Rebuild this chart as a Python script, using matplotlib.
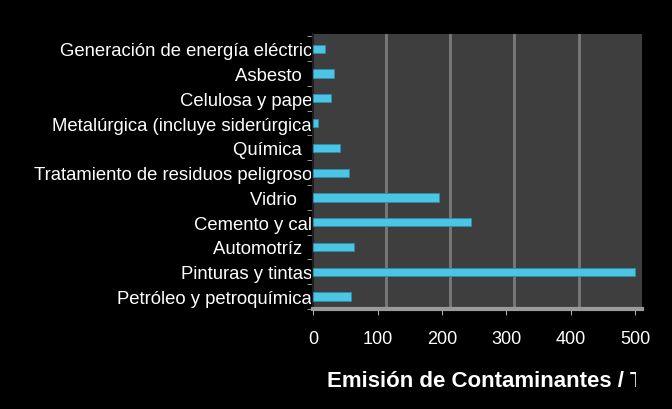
import numpy as np
import matplotlib.pyplot as plt
import matplotlib.transforms as mtransforms

# categories from top to bottom, as they appear (cut off by the plot box)
sectores = ["Generación de energía eléctric", "Asbesto  ", "Celulosa y pape",
            "Metalúrgica (incluye siderúrgica", "Química  ",
            "Tratamiento de residuos peligroso", "Vidrio   ", "Cemento y cal",
            "Automotríz  ", "Pinturas y tintas", "Petróleo y petroquímica"]
emision = [18, 33, 28, 8, 42, 55, 195, 245, 63, 500, 58]
xticks = [0, 100, 200, 300, 400, 500]

plt.rcParams['font.family'] = ['Liberation Sans', 'DejaVu Sans']

fig = plt.figure(figsize=(6.72, 4.10), dpi=100, facecolor='black')
ax = fig.add_axes([0.466, 0.244, 0.489, 0.671])
ax.set_facecolor('#3e3e3e')

y = np.arange(len(sectores))
ax.barh(y, emision, height=0.33, color='#4cc4e4', edgecolor='#2a8fb0', linewidth=0.6, zorder=3)

# gridlines with a small 3D-style offset
shift = mtransforms.ScaledTranslation(8 / 100, 0, fig.dpi_scale_trans)
for v in xticks[1:-1]:
    ax.plot([v, v], [0, 1], color='#7a7a7a', lw=2, zorder=1,
            transform=ax.get_xaxis_transform() + shift)

ax.set_xlim(0, 510)
ax.set_ylim(len(sectores) - 0.5, -0.6)
ax.set_xticks(xticks)
ax.set_xticklabels([str(v) for v in xticks], color='white', fontsize=13)
ax.set_yticks(y)
ax.set_yticklabels(sectores, color='white', fontsize=13.3)
ax.tick_params(axis='y', length=0, pad=0.8)
ax.tick_params(axis='x', length=4, color='#aaaaaa', pad=11)
ax.set_yticks(np.arange(len(sectores) + 1) - 0.5, minor=True)
ax.tick_params(axis='y', which='minor', length=4, color='#aaaaaa')

for s in ['top', 'right']:
    ax.spines[s].set_visible(False)
ax.spines['left'].set_color('#1e1e1e')
ax.spines['left'].set_linewidth(1.5)
ax.spines['bottom'].set_color('#9a9a9a')
ax.spines['bottom'].set_linewidth(3)

# clip the category labels at the plot edge, as in the original
clip = mtransforms.TransformedBbox(mtransforms.Bbox([[0, 0], [0.4635, 1]]), fig.transFigure)
for lab in ax.get_yticklabels():
    lab.set_clip_on(True)
    lab.set_clip_box(clip)

xl = fig.text(0.486, 0.055, "Emisión de Contaminantes / Ton", color='white',
              fontsize=16, fontweight='bold', ha='left')
xl.set_clip_on(True)
xl.set_clip_box(mtransforms.TransformedBbox(mtransforms.Bbox([[0, 0], [0.946, 1]]), fig.transFigure))

fig.savefig('out.png', dpi=100, facecolor='black')
